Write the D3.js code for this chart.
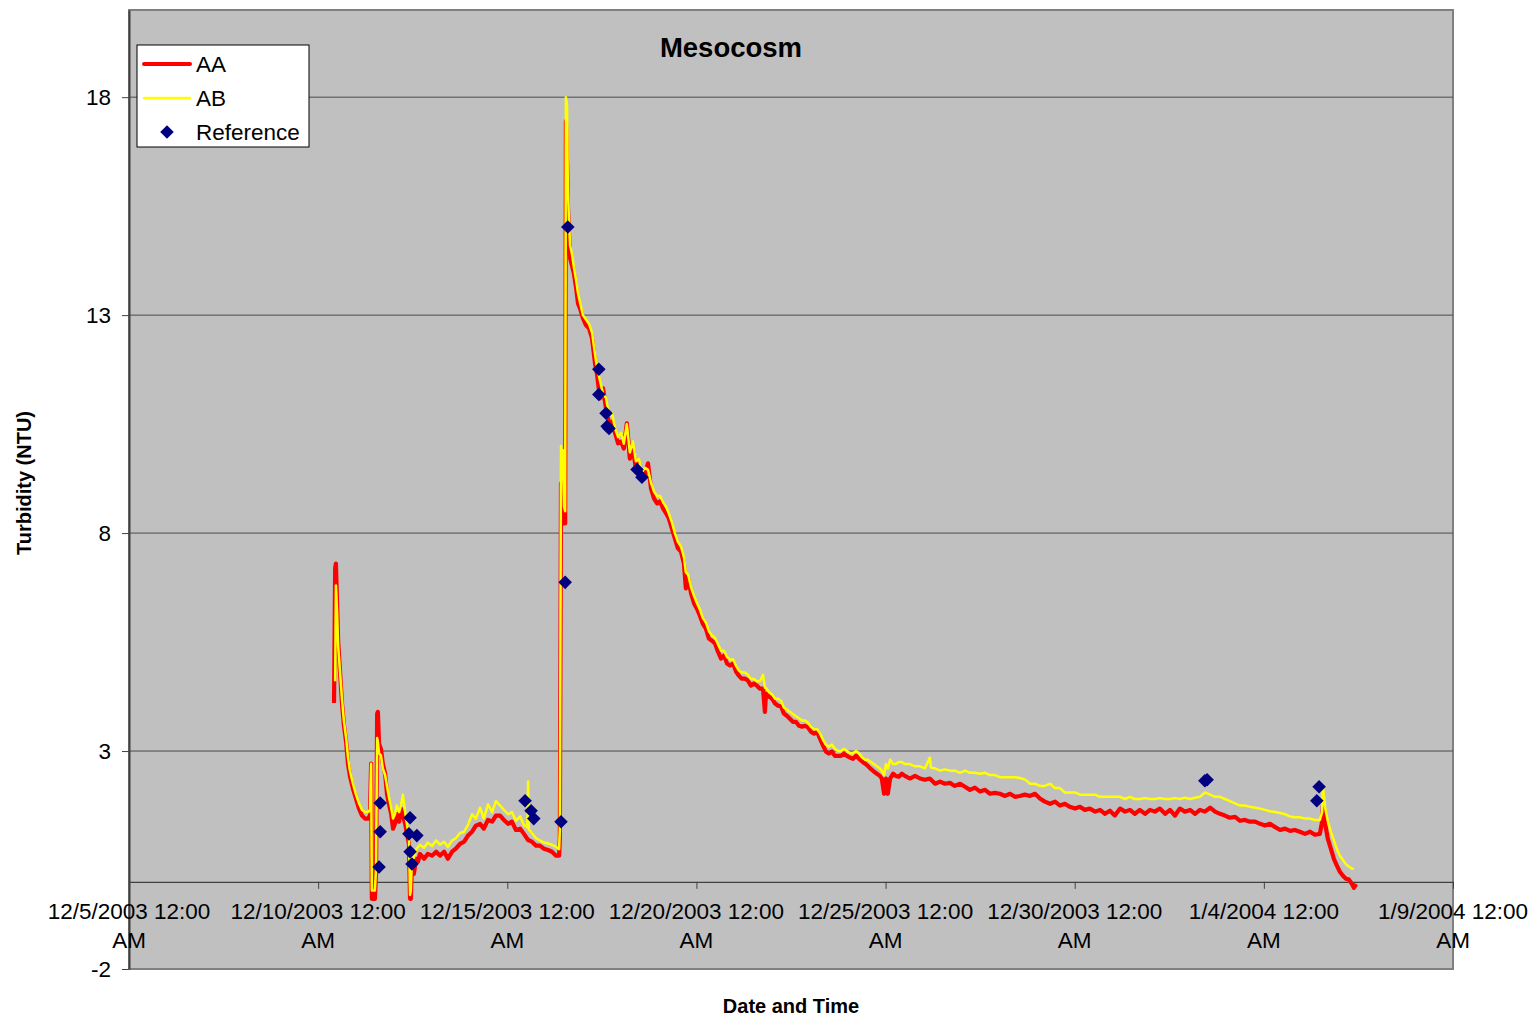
<!DOCTYPE html>
<html>
<head>
<meta charset="utf-8">
<script src="https://cdn.jsdelivr.net/npm/d3@7"></script>
<style>
  html, body { margin: 0; padding: 0; background: #fff; }
  svg { display: block; font-family: "Liberation Sans", Arial, sans-serif; }
</style>
</head>
<body>
<svg id="chart" width="1533" height="1017"></svg>
<script>
// ---------------- DATA ----------------
// time = days elapsed since 12/5/2003 12:00 AM, value = turbidity (NTU)
const chartTitle = "Mesocosm";
const xAxisTitle = "Date and Time";
const yAxisTitle = "Turbidity (NTU)";
const seriesNames = ["AA", "AB", "Reference"];
const yTicks = [-2, 3, 8, 13, 18];
const xTickDays = [0, 5, 10, 15, 20, 25, 30, 35];

const aaSeries = [
[5.42,4.1],[5.45,7.2],[5.47,7.3],[5.50,6.4],[5.53,5.5],[5.58,4.8],[5.63,4.1],[5.68,3.6],[5.74,3.2],[5.79,2.7],
[5.84,2.43],[5.92,2.14],[6.00,1.91],[6.08,1.68],[6.16,1.52],[6.24,1.45],[6.32,1.45],[6.37,1.52],[6.40,2.71],[6.42,-0.39],
[6.50,-0.39],[6.53,0.18],[6.56,3.86],[6.58,3.9],[6.61,3.17],[6.66,3.05],[6.71,2.71],[6.77,2.48],[6.82,2.02],[6.87,1.79],
[6.93,1.56],[6.98,1.22],[7.03,1.33],[7.08,1.56],[7.14,1.38],[7.19,1.68],[7.24,1.52],[7.30,1.33],[7.35,1.1],[7.40,0.87],
[7.43,-0.39],[7.45,-0.39],[7.48,0.41],[7.53,0.18],[7.59,0.53],[7.64,0.46],[7.69,0.64],
[7.80,0.53],[7.90,0.64],[8.01,0.60],[8.12,0.69],[8.22,0.60],[8.33,0.69],[8.43,0.53],[8.54,0.69],[8.64,0.76],[8.75,0.87],
[8.86,0.92],[8.96,1.06],[9.07,1.15],[9.17,1.29],[9.28,1.33],[9.38,1.22],[9.49,1.42],[9.60,1.38],[9.70,1.52],[9.81,1.52],
[9.91,1.42],[10.02,1.33],[10.12,1.38],[10.23,1.19],[10.34,1.22],[10.44,1.10],[10.55,0.96],[10.65,0.92],[10.76,0.83],[10.86,0.83],
[10.97,0.76],[11.08,0.73],[11.18,0.69],[11.29,0.60],[11.37,0.60],[11.39,0.99],[11.42,9.14],[11.45,8.68],[11.47,9.14],[11.50,8.22],
[11.53,8.22],[11.55,17.45],[11.58,16.49],[11.60,15.57],[11.63,14.88],[11.66,14.31],[11.71,14.14],[11.76,13.96],[11.82,13.62],[11.87,13.27],
[11.92,13.16],[12.00,12.93],[12.08,12.77],[12.16,12.70],[12.24,12.47],[12.32,11.89],[12.37,11.66],[12.45,11.09],[12.53,11.32],[12.61,10.86],
[12.69,10.52],[12.77,10.56],[12.85,10.29],[12.93,10.06],[13.01,10.10],[13.08,9.94],[13.16,10.52],[13.24,9.71],[13.32,9.94],[13.40,9.48],
[13.48,9.60],[13.56,9.25],[13.64,9.37],[13.72,9.60],[13.80,9.02],[13.88,8.79],[13.96,8.68],[14.04,8.73],[14.12,8.56],[14.20,8.45],
[14.27,8.34],[14.35,8.11],[14.43,7.88],[14.51,7.65],[14.59,7.58],[14.67,7.30],[14.72,6.73],[14.78,6.96],[14.86,6.61],[14.94,6.38],
[15.01,6.27],[15.09,6.11],[15.17,5.92],[15.25,5.81],[15.33,5.58],[15.41,5.53],[15.49,5.47],[15.57,5.28],[15.65,5.12],[15.73,5.19],
[15.81,5.01],[15.89,4.96],[15.97,5.01],[16.05,4.82],[16.12,4.73],[16.20,4.66],[16.28,4.66],[16.36,4.62],[16.44,4.50],[16.52,4.55],
[16.60,4.50],[16.68,4.43],[16.76,4.43],[16.81,3.90],[16.84,4.32],[16.92,4.25],[17.00,4.20],[17.08,4.09],[17.16,4.04],[17.24,4.02],
[17.31,3.86],[17.39,3.81],[17.47,3.74],[17.55,3.67],[17.63,3.67],[17.71,3.58],[17.79,3.56],[17.87,3.58],[17.95,3.54],[18.03,3.44],
[18.11,3.40],[18.19,3.44],[18.27,3.28],[18.35,3.12],[18.42,2.99],[18.50,2.94],[18.58,2.99],[18.66,2.89],[18.74,2.89],[18.82,2.89],
[18.90,2.94],[18.98,2.89],[19.06,2.85],[19.14,2.82],[19.22,2.89],[19.30,2.82],[19.38,2.76],[19.46,2.71],[19.53,2.66],[19.61,2.59],
[19.69,2.53],[19.77,2.48],[19.85,2.43],[19.90,2.37],[19.96,2.02],[20.01,2.37],[20.06,2.02],[20.12,2.37],[20.20,2.48],[20.27,2.43],
[20.35,2.41],[20.43,2.48],[20.51,2.43],[20.64,2.37],[20.78,2.43],[20.91,2.37],[21.04,2.34],[21.17,2.37],[21.31,2.25],[21.44,2.30],
[21.57,2.25],[21.70,2.27],[21.83,2.20],[21.97,2.25],[22.10,2.18],[22.23,2.11],[22.36,2.16],[22.50,2.07],[22.63,2.11],[22.76,2.02],
[22.89,2.04],[23.02,2.02],[23.16,1.97],[23.29,2.02],[23.42,1.95],[23.55,1.97],[23.68,2.00],[23.82,1.97],[23.95,2.02],[24.08,1.91],
[24.21,1.84],[24.35,1.79],[24.48,1.84],[24.61,1.75],[24.74,1.79],[24.87,1.72],[25.01,1.68],[25.14,1.72],[25.27,1.65],[25.40,1.68],
[25.54,1.61],[25.67,1.65],[25.80,1.56],[25.93,1.63],[26.06,1.52],[26.20,1.68],[26.33,1.61],[26.46,1.65],[26.59,1.56],[26.72,1.65],
[26.86,1.56],[26.99,1.65],[27.12,1.61],[27.25,1.68],[27.39,1.56],[27.52,1.65],[27.65,1.52],[27.78,1.68],[27.91,1.61],[28.05,1.65],
[28.18,1.56],[28.31,1.65],[28.44,1.61],[28.58,1.70],[28.71,1.61],[28.84,1.56],[28.97,1.52],[29.10,1.47],[29.24,1.49],[29.37,1.40],
[29.50,1.42],[29.63,1.38],[29.77,1.38],[29.90,1.33],[30.03,1.29],[30.16,1.33],[30.29,1.26],[30.43,1.19],[30.56,1.22],[30.69,1.17],
[30.82,1.19],[30.95,1.15],[31.09,1.10],[31.22,1.15],[31.35,1.08],[31.48,1.10],[31.54,1.38],[31.56,1.75],[31.62,1.33],[31.69,0.99],
[31.77,0.76],[31.85,0.53],[31.93,0.37],[32.01,0.23],[32.09,0.14],[32.17,0.07],[32.25,0.05],[32.33,-0.05],[32.38,-0.14],[32.44,-0.05]
];

const abSeries = [
[5.45,4.6],[5.47,6.8],[5.50,6.2],[5.53,5.4],[5.58,4.8],[5.63,4.2],[5.68,3.7],[5.74,3.3],[5.79,2.85],[5.84,2.55],
[5.92,2.25],[6.00,2.0],[6.08,1.8],[6.16,1.65],[6.24,1.6],[6.32,1.6],[6.37,1.65],[6.40,2.71],[6.42,-0.2],[6.50,-0.2],
[6.53,0.3],[6.56,3.3],[6.58,3.2],[6.61,2.95],[6.66,2.9],[6.71,2.6],[6.77,2.45],[6.82,2.2],[6.87,1.95],[6.93,1.7],
[6.98,1.45],[7.03,1.55],[7.08,1.75],[7.14,1.6],[7.19,1.75],[7.24,2.0],[7.30,1.6],[7.35,1.3],[7.40,1.05],[7.43,-0.3],
[7.45,-0.2],[7.48,0.55],[7.53,0.55],[7.59,0.75],[7.64,0.8],[7.69,0.85],
[7.80,0.78],[7.90,0.9],[8.01,0.82],[8.12,0.95],[8.22,0.85],[8.33,0.92],[8.43,0.8],[8.54,0.95],[8.64,1.0],[8.75,1.12],
[8.86,1.15],[8.96,1.3],[9.07,1.55],[9.17,1.45],[9.28,1.7],[9.38,1.45],[9.49,1.78],[9.60,1.6],[9.70,1.85],[9.81,1.75],
[9.91,1.65],[10.02,1.55],[10.12,1.6],[10.23,1.4],[10.34,1.5],[10.44,1.3],[10.53,1.25],[10.55,2.3],[10.57,1.2],[10.65,1.12],
[10.76,1.0],[10.86,0.95],[10.97,0.9],[11.08,0.88],[11.18,0.85],[11.29,0.8],[11.37,0.75],[11.39,1.2],[11.42,10.0],[11.45,9.5],
[11.47,9.9],[11.50,8.6],[11.53,8.5],[11.55,18.0],[11.58,17.8],[11.60,16.0],[11.63,15.2],[11.66,14.6],[11.71,14.4],[11.76,14.1],
[11.82,13.8],[11.87,13.5],[11.92,13.3],[12.00,13.0],[12.08,12.9],[12.16,12.8],[12.24,12.6],[12.32,12.1],[12.37,11.8],[12.45,11.5],
[12.53,11.2],[12.61,11.1],[12.69,10.7],[12.77,10.75],[12.85,10.4],[12.93,10.2],[13.01,10.3],[13.08,10.05],[13.16,10.5],[13.24,9.85],
[13.32,10.1],[13.40,9.65],[13.48,9.7],[13.56,9.4],[13.64,9.5],[13.72,9.45],[13.80,9.15],[13.88,8.95],[13.96,8.85],[14.04,8.85],
[14.12,8.7],[14.20,8.6],[14.27,8.45],[14.35,8.25],[14.43,8.0],[14.51,7.8],[14.59,7.7],[14.67,7.45],[14.72,7.1],[14.78,7.05],
[14.86,6.75],[14.94,6.55],[15.01,6.4],[15.09,6.25],[15.17,6.05],[15.25,5.95],[15.33,5.75],[15.41,5.65],[15.49,5.6],[15.57,5.45],
[15.65,5.3],[15.73,5.3],[15.81,5.15],[15.89,5.1],[15.97,5.1],[16.05,4.95],[16.12,4.85],[16.20,4.8],[16.28,4.8],[16.36,4.75],
[16.44,4.65],[16.52,4.65],[16.60,4.6],[16.68,4.6],[16.76,4.75],[16.81,4.45],[16.84,4.45],[16.92,4.35],[17.00,4.3],[17.08,4.2],
[17.16,4.2],[17.24,4.15],[17.31,4.0],[17.39,3.95],[17.47,3.9],[17.55,3.85],[17.63,3.8],[17.71,3.75],[17.79,3.7],[17.87,3.7],
[17.95,3.65],[18.03,3.55],[18.11,3.5],[18.19,3.5],[18.27,3.4],[18.35,3.25],[18.42,3.15],[18.50,3.1],[18.58,3.15],[18.66,3.05],
[18.74,3.0],[18.82,3.0],[18.90,3.05],[18.98,3.0],[19.06,2.95],[19.14,2.95],[19.22,3.0],[19.30,2.95],[19.38,2.85],[19.46,2.8],
[19.53,2.8],[19.61,2.75],[19.69,2.7],[19.77,2.65],[19.85,2.6],[19.90,2.55],[19.96,2.45],[20.01,2.7],[20.06,2.6],[20.12,2.8],
[20.20,2.7],[20.27,2.7],[20.35,2.75],[20.43,2.75],[20.51,2.7],[20.64,2.7],[20.78,2.65],[20.91,2.65],[21.04,2.6],[21.17,2.85],
[21.20,2.62],[21.31,2.6],[21.44,2.55],[21.57,2.58],[21.70,2.55],[21.83,2.55],[21.97,2.5],[22.10,2.55],[22.23,2.5],[22.36,2.5],
[22.50,2.48],[22.63,2.5],[22.76,2.45],[22.89,2.45],[23.02,2.4],[23.16,2.4],[23.29,2.4],[23.42,2.4],[23.55,2.38],[23.68,2.35],
[23.82,2.25],[23.95,2.25],[24.08,2.2],[24.21,2.2],[24.35,2.25],[24.48,2.15],[24.61,2.15],[24.74,2.05],[24.87,2.05],[25.01,2.05],
[25.14,2.0],[25.27,2.0],[25.40,2.0],[25.54,2.0],[25.67,1.95],[25.80,1.95],[25.93,1.95],[26.06,1.95],[26.20,1.95],[26.33,1.9],
[26.46,1.95],[26.59,1.9],[26.72,1.9],[26.86,1.92],[26.99,1.9],[27.12,1.9],[27.25,1.92],[27.39,1.9],[27.52,1.9],[27.65,1.92],
[27.78,1.9],[27.91,1.93],[28.05,1.9],[28.18,1.93],[28.31,1.95],[28.44,2.05],[28.58,2.0],[28.71,1.95],[28.84,1.95],[28.97,1.9],
[29.10,1.85],[29.24,1.8],[29.37,1.75],[29.50,1.75],[29.63,1.72],[29.77,1.7],[29.90,1.68],[30.03,1.65],[30.16,1.62],[30.29,1.6],
[30.43,1.58],[30.56,1.55],[30.69,1.5],[30.82,1.48],[30.95,1.48],[31.09,1.45],[31.22,1.45],[31.35,1.42],[31.48,1.42],[31.54,1.6],
[31.56,2.2],[31.62,1.7],[31.69,1.4],[31.77,1.15],[31.85,0.95],[31.93,0.75],[32.01,0.6],[32.09,0.5],[32.17,0.4],[32.25,0.35],
[32.33,0.3],[32.38,0.3]
];

const refSeries = [
[6.64,1.81],[6.64,1.15],[6.61,0.34],[7.43,1.47],[7.40,1.10],[7.61,1.06],[7.43,0.69],[7.48,0.41],
[10.47,1.86],[10.63,1.63],[10.70,1.45],[11.42,1.38],[11.53,6.87],[11.60,15.02],
[12.42,11.76],[12.42,11.18],[12.61,10.75],[12.64,10.45],[12.69,10.40],[13.43,9.46],[13.56,9.28],
[28.44,2.32],[28.50,2.34],[31.46,2.18],[31.40,1.86]
];

// ---------------- CHART ----------------
const svg = d3.select("#chart");
const plot = {left: 129, right: 1453, top: 10, bottom: 969};
const FONT = "'Liberation Sans', Arial, sans-serif";

const startDate = new Date(2003, 11, 5);
const toDate = d => new Date(startDate.getTime() + d * 86400000);

const x = d3.scaleTime()
  .domain([toDate(0), toDate(35)])
  .range([plot.left, plot.right]);
const y = d3.scaleLinear()
  .domain([-2, 20])
  .range([plot.bottom, plot.top]);

// plot background
svg.append("rect")
  .attr("x", plot.left).attr("y", plot.top)
  .attr("width", plot.right - plot.left).attr("height", plot.bottom - plot.top)
  .attr("fill", "#C0C0C0")
  .attr("stroke", "#808080").attr("stroke-width", 2);

// gridlines
svg.append("g").selectAll("line")
  .data(yTicks.filter(t => t > -2))
  .join("line")
  .attr("x1", plot.left).attr("x2", plot.right)
  .attr("y1", d => y(d)).attr("y2", d => y(d))
  .attr("stroke", "#4a4a4a").attr("stroke-width", 1);

// y axis
const yAxis = svg.append("g")
  .attr("transform", `translate(${plot.left},0)`)
  .call(d3.axisLeft(y).tickValues(yTicks).tickSize(7).tickSizeOuter(0).tickPadding(11)
    .tickFormat(d => String(d)));
yAxis.select(".domain").attr("stroke", "#404040").attr("stroke-width", 2);
yAxis.selectAll(".tick line").attr("stroke", "#404040");
yAxis.selectAll("text").attr("font-size", "22.5px").attr("fill", "#000").attr("font-family", FONT);

// x axis at y = 0
const fmt = d3.timeFormat("%-m/%-d/%Y %-I:%M %p");
const xAxis = svg.append("g")
  .attr("transform", `translate(0,${y(0)})`)
  .call(d3.axisBottom(x).tickValues(xTickDays.map(toDate)).tickSize(7).tickSizeOuter(0).tickFormat(""));
xAxis.select(".domain").attr("stroke", "#404040").attr("stroke-width", 1.3);
xAxis.selectAll(".tick line").attr("stroke", "#404040");

const xLabels = svg.append("g");
xTickDays.forEach(d => {
  const label = fmt(toDate(d));
  const parts = label.split(" ");
  const first = parts.slice(0, 2).join(" ");
  const second = parts[2];
  const t = xLabels.append("text")
    .attr("x", x(toDate(d)))
    .attr("text-anchor", "middle")
    .attr("font-size", "22.5px")
    .attr("fill", "#000");
  t.append("tspan").attr("x", x(toDate(d))).attr("y", 919).text(first);
  t.append("tspan").attr("x", x(toDate(d))).attr("y", 948).text(second);
});

// lines
const line = d3.line()
  .x(d => x(toDate(d[0])))
  .y(d => y(d[1]));

svg.append("path")
  .datum(aaSeries)
  .attr("d", line)
  .attr("fill", "none")
  .attr("stroke", "#FF0000")
  .attr("stroke-width", 4.2)
  .attr("stroke-linejoin", "round");

svg.append("path")
  .datum(abSeries)
  .attr("d", line)
  .attr("fill", "none")
  .attr("stroke", "#FFFF00")
  .attr("stroke-width", 2.5)
  .attr("stroke-linejoin", "round");

const diamond = d3.symbol().type(d3.symbolSquare).size(92);
svg.append("g").selectAll("path")
  .data(refSeries)
  .join("path")
  .attr("d", diamond)
  .attr("transform", d => `translate(${x(toDate(d[0]))},${y(d[1])}) rotate(45)`)
  .attr("fill", "#000080");

// title
svg.append("text")
  .attr("x", 731).attr("y", 57)
  .attr("text-anchor", "middle")
  .attr("font-size", "27.5px").attr("font-weight", "bold")
  .text(chartTitle);

// axis titles
svg.append("text")
  .attr("x", 791).attr("y", 1013)
  .attr("text-anchor", "middle")
  .attr("font-size", "20px").attr("font-weight", "bold")
  .text(xAxisTitle);

svg.append("text")
  .attr("transform", "translate(31,483) rotate(-90)")
  .attr("text-anchor", "middle")
  .attr("font-size", "20px").attr("font-weight", "bold")
  .text(yAxisTitle);

// legend
const lg = svg.append("g");
lg.append("rect")
  .attr("x", 137).attr("y", 45).attr("width", 172).attr("height", 102)
  .attr("fill", "#fff").attr("stroke", "#000").attr("stroke-width", 1);
const legendRows = [
  {name: seriesNames[0], type: "line", color: "#FF0000", w: 4},
  {name: seriesNames[1], type: "line", color: "#FFFF00", w: 2.5},
  {name: seriesNames[2], type: "marker", color: "#000080"}
];
legendRows.forEach((r, i) => {
  const cy = 64 + i * 34;
  if (r.type === "line") {
    lg.append("line").attr("x1", 144).attr("x2", 190).attr("y1", cy).attr("y2", cy)
      .attr("stroke", r.color).attr("stroke-width", r.w).attr("stroke-linecap", "round");
  } else {
    lg.append("path").attr("d", diamond)
      .attr("transform", `translate(167,${cy}) rotate(45)`)
      .attr("fill", r.color);
  }
  lg.append("text").attr("x", 196).attr("y", cy + 8)
    .attr("font-size", "22.5px").attr("fill", "#000")
    .text(r.name);
});
</script>
</body>
</html>
